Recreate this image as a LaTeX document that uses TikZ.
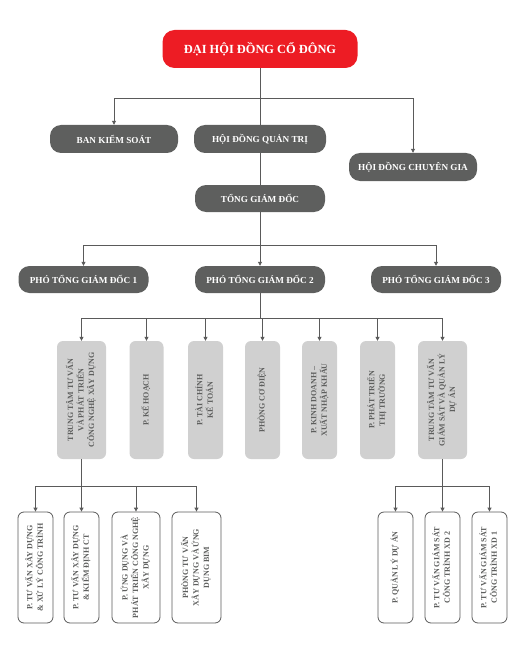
\documentclass[tikz,border=0pt]{standalone}
\usepackage{fontspec}
\setmainfont{Liberation Serif}
\usepackage{graphicx}
\usetikzlibrary{arrows.meta}
\definecolor{cRed}{HTML}{ED1C24}
\definecolor{cDark}{HTML}{5E5F5E}
\definecolor{cLight}{HTML}{D0D0D0}
\definecolor{cLine}{HTML}{5A5A5A}
\newcommand{\vtext}[1]{\rotatebox{90}{\begin{tabular}{@{}c@{}}#1\end{tabular}}}
\begin{document}
\begin{tikzpicture}[
            x=1pt, y=-1pt,
            line/.style={draw=cLine, line width=0.8pt},
            arr/.style={line, -{Triangle[width=4pt,length=4pt]}},
            chiefbox/.style={fill=cRed, text=white, rounded corners=12pt, minimum width=195pt, minimum height=38pt, font=\bfseries\fontsize{12.4}{14}\selectfont},
            leadbox/.style={fill=cDark, text=white, rounded corners=11pt, minimum width=130pt, minimum height=28pt, font=\bfseries\fontsize{9.2}{11}\selectfont},
            deptbox/.style={fill=cLight, text=cDark, rounded corners=6pt, minimum width=35pt, minimum height=118pt, inner sep=0pt, font=\bfseries\fontsize{8}{10.5}\selectfont},
            subbox/.style={draw=cLine, line width=0.8pt, fill=white, text=cDark, rounded corners=6pt, minimum width=35pt, minimum height=111pt, inner sep=0pt, font=\bfseries\fontsize{8}{10.5}\selectfont}
        ]
        \useasboundingbox (0,0) rectangle (523,663);
        \node[chiefbox] (DH) at (260,49) {ĐẠI HỘI ĐỒNG CỔ ĐÔNG};
        \node[leadbox, minimum width=128pt] (BKS) at (114,139) {BAN KIỂM SOÁT};
        \node[leadbox, minimum width=132pt] (HDQT) at (260,139) {HỘI ĐỒNG QUẢN TRỊ};
        \node[leadbox, minimum width=128pt] (HDCG) at (413,167) {HỘI ĐỒNG CHUYÊN GIA};
        \node[leadbox, minimum height=27pt] (TGD) at (260,198.5) {TỔNG GIÁM ĐỐC};
        \node[leadbox, minimum height=27pt] (P1) at (83.5,279.5) {PHÓ TỔNG GIÁM ĐỐC 1};
        \node[leadbox, minimum height=27pt] (P2) at (260,279.5) {PHÓ TỔNG GIÁM ĐỐC 2};
        \node[leadbox, minimum height=27pt] (P3) at (436,279.5) {PHÓ TỔNG GIÁM ĐỐC 3};
        \node[deptbox, minimum width=49pt] (D1) at (81.5,400) {\vtext{TRUNG TÂM TƯ VẤN\\VÀ PHÁT TRIỂN\\CÔNG NGHỆ XÂY DỰNG}};
        \node[deptbox, minimum width=34pt] (D2) at (146.5,400) {\vtext{P. KẾ HOẠCH}};
        \node[deptbox] (D3) at (205.5,400) {\vtext{P. TÀI CHÍNH\\KẾ TOÁN}};
        \node[deptbox] (D4) at (262.5,400) {\vtext{PHÒNG CƠ ĐIỆN}};
        \node[deptbox] (D5) at (319.5,400) {\vtext{P. KINH DOANH –\\XUẤT NHẬP KHẨU}};
        \node[deptbox] (D6) at (377.5,400) {\vtext{P. PHÁT TRIỂN\\THỊ TRƯỜNG}};
        \node[deptbox, minimum width=49pt] (D7) at (442.5,400) {\vtext{TRUNG TÂM TƯ VẤN\\GIÁM SÁT VÀ QUẢN LÝ\\DỰ ÁN}};
        \node[subbox] (A1) at (35.5,567.5) {\vtext{P. TƯ VẤN XÂY DỰNG\\\& XỬ LÝ CÔNG TRÌNH}};
        \node[subbox] (A2) at (81.5,567.5) {\vtext{P. TƯ VẤN XÂY DỰNG\\\& KIỂM ĐỊNH CT}};
        \node[subbox, minimum width=48pt] (A3) at (136,567.5) {\vtext{P. ỨNG DỤNG VÀ\\PHÁT TRIỂN CÔNG NGHỆ\\XÂY DỰNG}};
        \node[subbox, minimum width=49pt] (A4) at (196.5,567.5) {\vtext{PHÒNG TƯ VẤN\\XÂY DỰNG VÀ ỨNG\\DỤNG BIM}};
        \node[subbox] (B1) at (395.5,567.5) {\vtext{P. QUẢN LÝ DỰ ÁN}};
        \node[subbox] (B2) at (442.5,567.5) {\vtext{P. TƯ VẤN GIÁM SÁT\\CÔNG TRÌNH XD 2}};
        \node[subbox] (B3) at (489.5,567.5) {\vtext{P. TƯ VẤN GIÁM SÁT\\CÔNG TRÌNH XD 1}};
        \coordinate (J1) at (260,98);
        \coordinate (J2) at (260,245);
        \coordinate (J3) at (260,318);
        \coordinate (J4) at (81.5,486);
        \coordinate (J5) at (442.5,486);
        \draw[line] (DH) -- (HDQT);
        \draw[line] (HDQT) -- (TGD);
        \draw[arr] (J1) -| (BKS.north);
        \draw[arr] (J1) -| (HDCG.north);
        \draw[line] (TGD) -- (J2);
        \foreach \n in {P1,P2,P3}
            \draw[arr] (J2) -| (\n.north);
        \draw[line] (P2) -- (J3);
        \foreach \n in {D1,D2,D3,D4,D5,D6,D7}
            \draw[arr] (J3) -| (\n.north);
        \draw[line] (D1) -- (J4);
        \foreach \n in {A1,A2,A3,A4}
            \draw[arr] (J4) -| (\n.north);
        \draw[line] (D7) -- (J5);
        \foreach \n in {B1,B2,B3}
            \draw[arr] (J5) -| (\n.north);
    \end{tikzpicture}
\end{document}
